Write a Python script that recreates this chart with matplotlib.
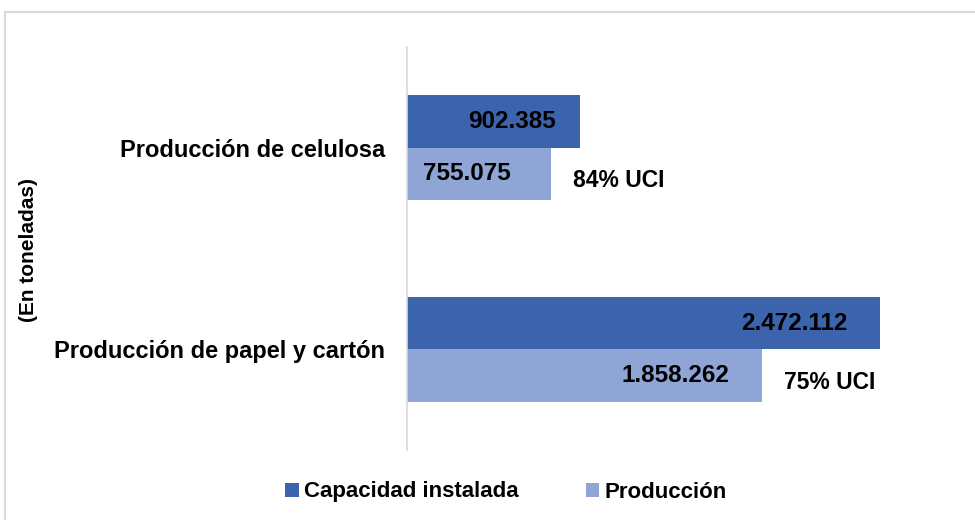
import matplotlib.pyplot as plt
from matplotlib.patches import Rectangle

categories = ["Producción de celulosa", "Producción de papel y cartón"]
capacidad = [902385, 2472112]
produccion = [755075, 1858262]
series_names = ["Capacidad instalada", "Producción"]


def fmt(v):
    return f"{v:,}".replace(",", ".")


plt.rcParams["font.family"] = ["Liberation Sans", "DejaVu Sans"]
plt.rcParams["font.weight"] = "bold"

dark = "#3C64AD"
light = "#8FA5D5"
grey = "#d9d9d9"

fig = plt.figure(figsize=(9.75, 5.2), dpi=100)
ax = fig.add_axes([407 / 975, 1 - 450 / 520, 478 / 975, 403 / 520])

y = list(range(len(categories)))
h = 0.26
b1 = ax.barh([i - h / 2 for i in y], capacidad, height=h, color=dark, label=series_names[0])
b2 = ax.barh([i + h / 2 for i in y], produccion, height=h, color=light, label=series_names[1])

ax.set_ylim(1.5, -0.5)
ax.set_xlim(0, 2500000)
ax.set_yticks(y)
ax.set_yticklabels(categories, fontsize=17, fontweight="bold")
ax.tick_params(axis="y", length=0, pad=16)
ax.set_xticks([])
for s in ["top", "right", "bottom"]:
    ax.spines[s].set_visible(False)
ax.spines["left"].set_color(grey)
ax.spines["left"].set_linewidth(1.2)

# value labels inside the bars (offsets in pixels from the bar end)
cap_off = [-24, -32]
prod_off = [-41, -33]
for i in y:
    ax.annotate(fmt(capacidad[i]), (capacidad[i], i - h / 2), xytext=(cap_off[i], 0),
                textcoords="offset pixels", ha="right", va="center",
                fontsize=17.5, fontweight="bold", color="black")
    ax.annotate(fmt(produccion[i]), (produccion[i], i + h / 2), xytext=(prod_off[i], 0),
                textcoords="offset pixels", ha="right", va="center",
                fontsize=17.5, fontweight="bold", color="black")
    uci = round(produccion[i] / capacidad[i] * 100)
    ax.annotate(f"{uci}% UCI", (produccion[i], i + h / 2), xytext=(22, -7),
                textcoords="offset pixels", ha="left", va="center",
                fontsize=16.5, fontweight="bold", color="black", annotation_clip=False)

fig.text(28 / 975, 1 - 250 / 520, "(En toneladas)", rotation=90, ha="center", va="center",
         fontsize=15, fontweight="bold")

fig.legend(handles=[b1, b2], loc="center", bbox_to_anchor=(506 / 975, 1 - 492 / 520), ncol=2,
           frameon=False, handlelength=0.6, handleheight=0.6,
           handletextpad=0.25, columnspacing=3.0, prop={"weight": "bold", "size": 16})

fig.patches.append(Rectangle((5 / 975, -0.1), 1.1, 1 - 11.5 / 520 + 0.1, transform=fig.transFigure,
                             fill=False, edgecolor=grey, linewidth=1.5))

fig.savefig("out.png", dpi=100)
